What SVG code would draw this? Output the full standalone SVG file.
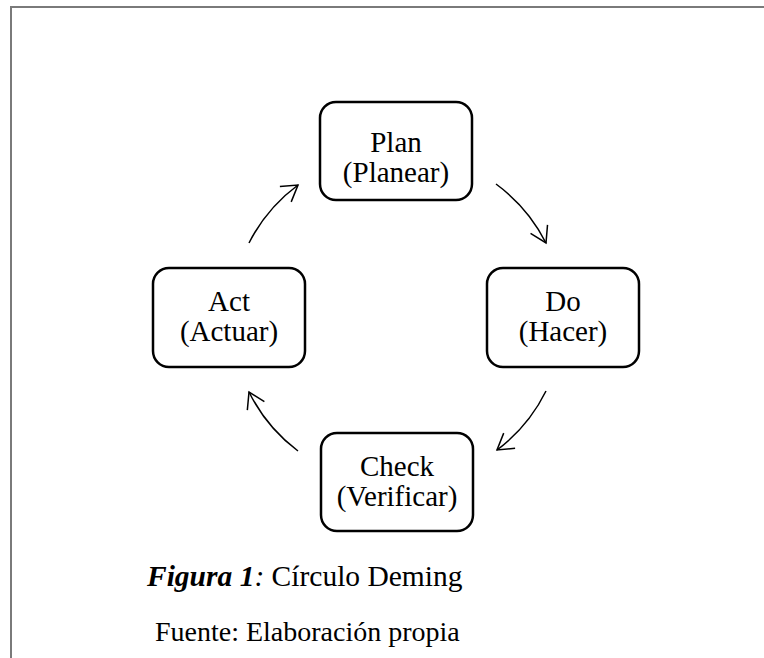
<svg xmlns="http://www.w3.org/2000/svg" width="764" height="658" viewBox="0 0 764 658">
  <style>
    .frame { stroke: #7a7a7a; stroke-width: 2; fill: none; }
    .node rect { fill: #ffffff; stroke: #000000; stroke-width: 2.5; }
    .label { font-family: "Liberation Serif", "Times New Roman", serif; font-size: 29px; fill: #000000; text-anchor: middle; }
    .caption { font-family: "Liberation Serif", "Times New Roman", serif; font-size: 28px; fill: #000000; }
    .title { font-size: 29.5px; }
    .arc { fill: none; stroke: #000000; stroke-width: 1.5; }
  </style>
  <defs>
    <marker id="open-arrow" markerUnits="userSpaceOnUse" viewBox="-20 -12 22 24" refX="0" refY="0" markerWidth="22" markerHeight="24" orient="auto" overflow="visible">
      <path d="M -15.5 -9.5 L 0 0 L -15.5 9.5" fill="none" stroke="#000000" stroke-width="1.5"/>
    </marker>
  </defs>

  <rect width="764" height="658" fill="#ffffff"/>

  <!-- page frame (top and left edges) -->
  <path class="frame" d="M 11 658 L 11 7 L 764 7"/>

  <!-- cycle connectors: arcs of one circle around the centre -->
  <g id="connectors">
    <path class="arc" d="M 249 243 A 165 165 0 0 1 298 185" marker-end="url(#open-arrow)"/>
    <path class="arc" d="M 496 184 A 165 165 0 0 1 546 243" marker-end="url(#open-arrow)"/>
    <path class="arc" d="M 546 391 A 165 165 0 0 1 497 450" marker-end="url(#open-arrow)"/>
    <path class="arc" d="M 298 451 A 165 165 0 0 1 249 392" marker-end="url(#open-arrow)"/>
  </g>

  <g id="node-plan" class="node">
    <rect x="320" y="102" width="152" height="98" rx="16"/>
    <text class="label" x="396" y="152">Plan</text>
    <text class="label" x="396" y="182">(Planear)</text>
  </g>

  <g id="node-do" class="node">
    <rect x="487" y="268" width="152" height="99" rx="16"/>
    <text class="label" x="563" y="311">Do</text>
    <text class="label" x="563" y="341">(Hacer)</text>
  </g>

  <g id="node-check" class="node">
    <rect x="321" y="433" width="152" height="98" rx="16"/>
    <text class="label" x="397" y="476">Check</text>
    <text class="label" x="397" y="506">(Verificar)</text>
  </g>

  <g id="node-act" class="node">
    <rect x="153" y="268" width="152" height="99" rx="16"/>
    <text class="label" x="229" y="311">Act</text>
    <text class="label" x="229" y="341">(Actuar)</text>
  </g>

  <g id="caption">
    <text class="caption title" x="147" y="586"><tspan font-weight="bold" font-style="italic">Figura 1</tspan><tspan font-style="italic">:</tspan> Círculo Deming</text>
    <text class="caption" x="155" y="641">Fuente: Elaboración propia</text>
  </g>
</svg>
